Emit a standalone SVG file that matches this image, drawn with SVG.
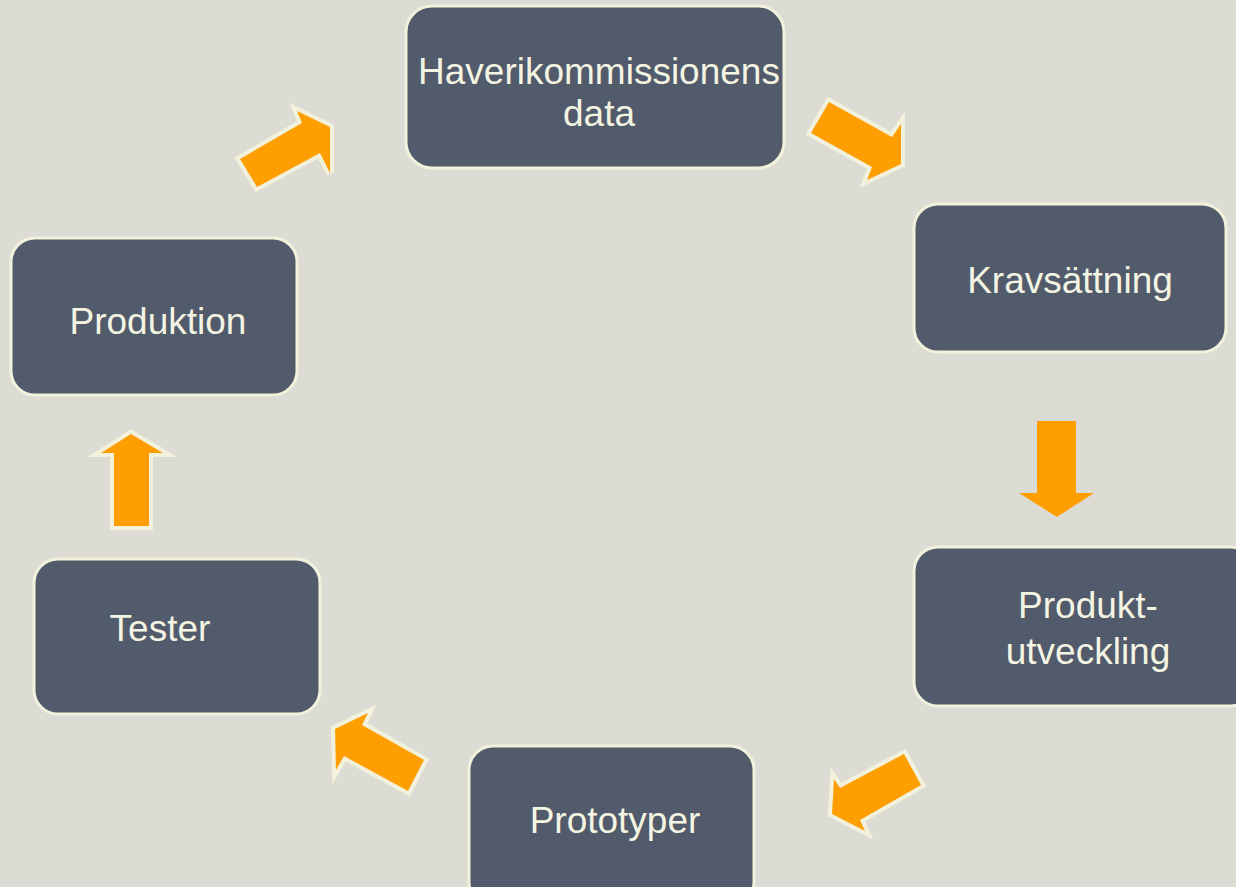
<svg xmlns="http://www.w3.org/2000/svg" width="1236" height="887" viewBox="0 0 1236 887">
<style>
.node{fill:#525B6B;stroke:#F2F2DC;stroke-width:3}
.lbl{font-family:"Liberation Sans",Arial,sans-serif;font-size:37px;fill:#F4F4E2;text-anchor:middle}
.arr{fill:#FF9E00;stroke:#F2F2DC;stroke-width:8;stroke-linejoin:miter;stroke-miterlimit:4;paint-order:stroke}
.arrn{fill:#FF9E00}
</style>
<rect x="0" y="0" width="1236" height="887" fill="#DCDCD4"/>
<g id="connectors">
<polygon class="arr" points="240,159 302,123 297,111 330,127 330,173 320,153 257,187"/>
<polygon class="arr" points="829,102 892,137 901,124 901,164 867,180 872,167 811,133"/>
<polygon class="arrn" points="1037,421 1076,421 1076,493 1094,493 1057,517 1019,493 1037,493"/>
<polygon class="arr" points="904,754 840,788 834,779 832,814 865,831 860,820 921,785"/>
<polygon class="arr" points="368,713 362,725 424,760 408,791 344,756 336,770 335,729"/>
<polygon class="arr" points="114,526 149,526 149,453 163,453 131,434 101,453 114,453"/>
</g>
<g id="node-haveri">
<rect class="node" x="406" y="6" width="378" height="162" rx="26"/>
<text class="lbl" x="599" y="84">Haverikommissionens</text>
<text class="lbl" x="599" y="126">data</text>
</g>
<g id="node-krav">
<rect class="node" x="914" y="204" width="312" height="148" rx="24"/>
<text class="lbl" x="1070" y="293">Kravsättning</text>
</g>
<g id="node-produktutveckling">
<rect class="node" x="914" y="547" width="340" height="159" rx="24"/>
<text class="lbl" x="1088" y="618">Produkt-</text>
<text class="lbl" x="1088" y="664">utveckling</text>
</g>
<g id="node-prototyper">
<rect class="node" x="469" y="746" width="285" height="160" rx="24"/>
<text class="lbl" x="615" y="833">Prototyper</text>
</g>
<g id="node-tester">
<rect class="node" x="34" y="559" width="286" height="155" rx="24"/>
<text class="lbl" x="160" y="641">Tester</text>
</g>
<g id="node-produktion">
<rect class="node" x="11" y="238" width="286" height="157" rx="24"/>
<text class="lbl" x="158" y="334">Produktion</text>
</g>
</svg>
